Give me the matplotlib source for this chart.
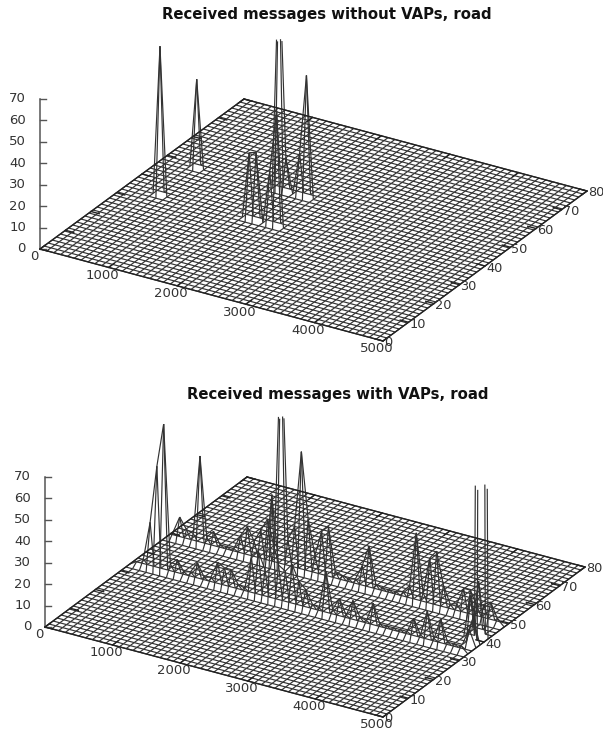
import numpy as np
import matplotlib
matplotlib.use('Agg')
import matplotlib.pyplot as plt
from matplotlib.collections import LineCollection

# grid of the surface
x_grid = np.arange(0, 5001, 100)
y_grid = np.linspace(0, 80, 51)
z_max = 70

x_ticks = [0, 1000, 2000, 3000, 4000, 5000]
y_ticks = [0, 10, 20, 30, 40, 50, 60, 70, 80]
z_ticks = [0, 10, 20, 30, 40, 50, 60, 70]

title_top = 'Received messages without VAPs, road'
title_bottom = 'Received messages with VAPs, road'

# peaks of the upper plot, everything else is 0
top_x = [500, 500, 1800, 1900, 2100, 2200, 1700, 1800, 2000, 2100]
top_y = [33.6, 48, 33.6, 33.6, 33.6, 33.6, 48, 48, 48, 48]
top_z = [69.5, 41.5, 31, 32, 25, 54, 110, 16, 20, 57]

# the two roads of the lower plot, one value per grid point along the road
road_x = [100, 200, 300, 400, 500, 600, 700, 800, 900, 1000,
          1100, 1200, 1300, 1400, 1500, 1600, 1700, 1800, 1900, 2000,
          2100, 2200, 2300, 2400, 2500, 2600, 2700, 2800, 2900, 3000,
          3100, 3200, 3300, 3400, 3500, 3600, 3700, 3800, 3900, 4000,
          4100, 4200, 4300, 4400, 4500, 4600, 4700, 4800, 4900]
road_front_z = [2, 4, 22, 49, 69.5, 5, 8, 3, 4, 9,
                3, 4, 11.7, 10, 10, 4, 3, 18, 22, 14,
                50, 18, 16, 20, 13, 10, 4, 3, 21, 4,
                10, 3, 10.7, 4, 3, 12, 3, 3, 3, 3,
                3, 10, 3, 15, 3, 13, 3, 3, 3]
road_back_z = [3, 11, 6, 5, 42, 5, 8.5, 3, 3, 3,
               10, 15, 9, 15, 21, 8, 110, 14, 21, 56.6,
               26, 10, 22, 25, 5, 4, 3, 4, 11, 21,
               4, 3, 3, 3, 4, 7.5, 33, 6, 23, 27,
               12, 4, 5, 13, 13, 6, 8, 10, 3]
road_front_y = 33.6
road_back_y = 48

# the mess near the right edge of the lower plot
end_x = [4900, 4900, 4900, 4800, 4800]
end_y = [41.6, 38.4, 36.8, 40, 43.2]
end_z = [600, 12, 8, 20, 24]


def make_surface(px, py, pz):
    z = np.zeros((len(y_grid), len(x_grid)))
    for a, b, c in zip(px, py, pz):
        z[np.argmin(abs(y_grid - b)), np.argmin(abs(x_grid - a))] = c
    return z


def clip_edge(p, q):
    # cut a mesh line at z_max
    if p[2] > z_max and q[2] > z_max:
        return None
    if p[2] > z_max:
        p, q = q, p
    if q[2] > z_max:
        t = (z_max - p[2]) / (q[2] - p[2])
        q = (p[0] + t * (q[0] - p[0]), p[1] + t * (q[1] - p[1]), z_max)
    return p, q


def draw_panel(ax, origin, ex, ey, title, title_x, title_y, z):
    ox, oy = origin

    def project(x, y, h):
        sx = ox + x / 5000 * ex[0] + y / 80 * ey[0]
        sy = oy + x / 5000 * ex[1] - y / 80 * ey[1] - h / 70 * 150
        return sx, sy

    segs = []
    for j in range(len(y_grid)):
        for i in range(len(x_grid)):
            p = (x_grid[i], y_grid[j], z[j, i])
            if i < len(x_grid) - 1:
                e = clip_edge(p, (x_grid[i + 1], y_grid[j], z[j, i + 1]))
                if e:
                    segs.append([project(*e[0]), project(*e[1])])
            if j < len(y_grid) - 1:
                e = clip_edge(p, (x_grid[i], y_grid[j + 1], z[j + 1, i]))
                if e:
                    segs.append([project(*e[0]), project(*e[1])])
    ax.add_collection(LineCollection(segs, colors='#333333', linewidths=0.85))

    # frame of the base
    edge = [project(0, 0, 0), project(5000, 0, 0), project(5000, 80, 0), project(0, 80, 0), project(0, 0, 0)]
    ax.plot(*zip(*edge), color='#222222', lw=1.0)

    # z axis
    zline = [project(0, 0, 0), project(0, 0, 70)]
    ax.plot(*zip(*zline), color='#555555', lw=1.1)
    for t in z_ticks:
        sx, sy = project(0, 0, t)
        ax.plot([sx, sx + 6], [sy, sy], color='#555555', lw=1.0)
        ax.text(sx - 14, sy, str(t), ha='right', va='center', fontsize=9.5, color='#333333')

    # x and y ticks, also on the far sides
    for t in x_ticks:
        for side, sign in ((0, 1), (80, -1)):
            a = project(t, side, 0)
            b = project(t, side + sign * 2.2, 0)
            ax.plot([a[0], b[0]], [a[1], b[1]], color='#222222', lw=1.0)
        sx, sy = project(t, 0, 0)
        ax.text(sx - 6, sy + 8, str(t), ha='center', va='center', fontsize=9.5, color='#333333')
    for t in y_ticks:
        for side, sign in ((5000, -1), (0, 1)):
            a = project(side, t, 0)
            b = project(side + sign * 120, t, 0)
            ax.plot([a[0], b[0]], [a[1], b[1]], color='#222222', lw=1.0)
        sx, sy = project(5000, t, 0)
        ax.text(sx + 1, sy + 2, str(t), ha='left', va='center', fontsize=9.3, color='#333333')

    ax.text(title_x, title_y, title, ha='center', va='center', fontsize=10.7,
            fontweight='bold', color='#111111')


fig = plt.figure(figsize=(6.03, 7.32), dpi=100)
ax = fig.add_axes([0, 0, 1, 1])
ax.set_xlim(0, 603)
ax.set_ylim(732, 0)
ax.axis('off')

z_top = make_surface(top_x, top_y, top_z)
draw_panel(ax, (40, 249), (343, 92), (204, 150), title_top, 327, 15, z_top)

z_bottom = make_surface(road_x, [road_front_y] * len(road_x), road_front_z)
z_bottom = z_bottom + make_surface(road_x, [road_back_y] * len(road_x), road_back_z)
z_bottom = z_bottom + make_surface(end_x, end_y, end_z)
draw_panel(ax, (45, 627), (338, 90), (202, 150), title_bottom, 337.5, 394, z_bottom)

fig.savefig('out.png', dpi=100)
